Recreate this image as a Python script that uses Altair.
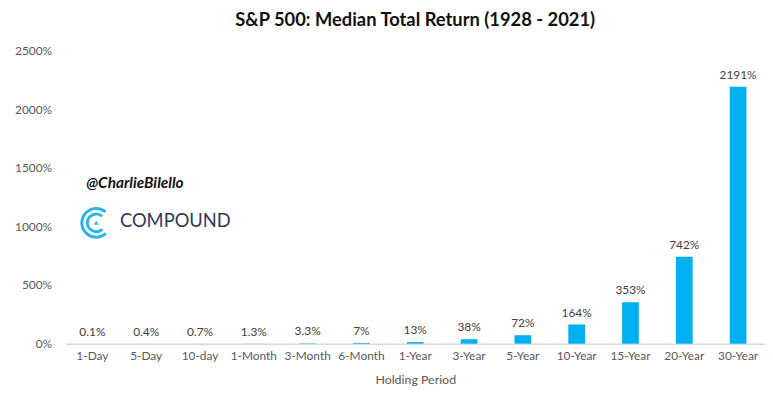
import altair as alt
import pandas as pd

periods = ["1-Day", "5-Day", "10-day", "1-Month", "3-Month", "6-Month", "1-Year",
           "3-Year", "5-Year", "10-Year", "15-Year", "20-Year", "30-Year"]
returns = [0.1, 0.4, 0.7, 1.3, 3.3, 7, 13, 38, 72, 164, 353, 742, 2191]
labels = ["0.1%", "0.4%", "0.7%", "1.3%", "3.3%", "7%", "13%", "38%", "72%",
          "164%", "353%", "742%", "2191%"]
y_ticks = [0, 500, 1000, 1500, 2000, 2500]

df = pd.DataFrame({"period": periods, "ret": returns, "label": labels})

FONT = "Lato"
W, H = 706, 296

x_enc = alt.X("period:N", sort=periods, title="Holding Period",
              scale=alt.Scale(paddingInner=0.69, paddingOuter=0.345),
              axis=alt.Axis(labelAngle=0, ticks=False, domainColor="#d9d9d9",
                            domainWidth=1.5, labelColor="#595959", labelFont=FONT,
                            labelFontSize=12, labelPadding=7, titleFont=FONT,
                            titleFontSize=12.5, titleFontWeight="normal",
                            titleColor="#595959", titlePadding=12))
y_enc = alt.Y("ret:Q", title=None,
              scale=alt.Scale(domain=[0, 2500], nice=False),
              axis=alt.Axis(values=y_ticks, labelExpr="datum.value + '%'",
                            grid=False, domain=False, ticks=False,
                            labelColor="#595959", labelFont=FONT,
                            labelFontSize=12, labelPadding=14))

bars = alt.Chart(df).mark_bar(color="#00B0F0").encode(x=x_enc, y=y_enc)
text = alt.Chart(df).mark_text(dy=-12, font=FONT, fontSize=12, color="#404040").encode(
    x=alt.X("period:N", sort=periods), y="ret:Q", text="label:N")

handle = alt.Chart(pd.DataFrame({"t": ["@CharlieBilello"]})).mark_text(
    font=FONT, fontSize=15.5, fontStyle="italic", fontWeight="bold", align="left",
    baseline="middle", color="#111111").encode(
    x=alt.value(21), y=alt.value(134), text="t:N")
brand = alt.Chart(pd.DataFrame({"t": ["COMPOUND"]})).mark_text(
    font=FONT, fontSize=18.5, align="left", baseline="middle", color="#2e3a57").encode(
    x=alt.value(55), y=alt.value(172), text="t:N")

rings = pd.DataFrame({"r": [13, 7.5], "r2": [16, 10.5]})
logo = alt.Chart(rings).mark_arc(color="#29B5EA", theta=2.4, theta2=7.0).encode(
    x=alt.value(31), y=alt.value(174), radius=alt.Radius("r2:Q", scale=None),
    radius2=alt.Radius2("r:Q"))
tri = alt.Chart(pd.DataFrame({"a": [1]})).mark_point(
    shape="triangle-up", filled=True, color="#29B5EA", size=22, opacity=1).encode(
    x=alt.value(31), y=alt.value(174))

chart = alt.layer(bars, text, handle, brand, logo, tri).properties(
    width=W, height=H,
    title=alt.TitleParams("S&P 500: Median Total Return (1928 - 2021)", font=FONT,
                          fontSize=18.5, fontWeight="bold", color="#111111",
                          anchor="middle", offset=15),
    autosize=alt.AutoSizeParams(type="none"),
    padding={"left": 58, "top": 41, "right": 0, "bottom": 50},
).configure_view(stroke=None)

chart.save("out.html", embed_options={"renderer": "svg", "actions": False})
